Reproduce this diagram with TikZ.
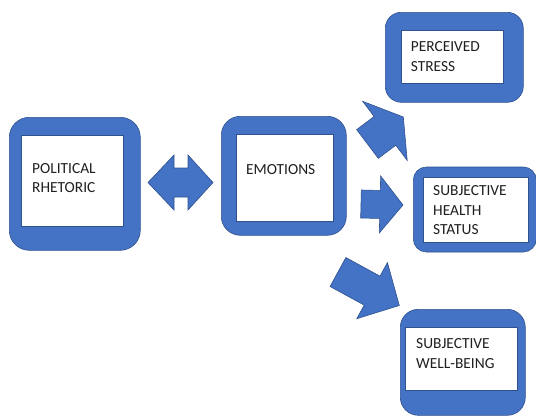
\documentclass[tikz,border=0pt]{standalone}
\usepackage{fontspec}
\setmainfont{Carlito}
\usetikzlibrary{calc}
\definecolor{officeblue}{HTML}{4472C4}
\definecolor{edgeblue}{HTML}{2F528F}
\tikzset{
  frame/.style={fill=officeblue, draw=edgeblue, line width=0.6pt, inner sep=0pt, anchor=north west},
  panel/.style={fill=white, draw=edgeblue, line width=0.6pt, inner sep=0pt, anchor=north west},
  lbl/.style={font=\fontsize{15.4}{19.5}\selectfont, align=left, anchor=north west, inner sep=0pt, text=black!88},
  blk/.style={fill=officeblue, draw=edgeblue, line width=0.6pt, line join=miter},
}
\newcommand\blkarrow[5]{%
  \coordinate (hb) at ($(#2)!#5!(#1)$);
  \draw[blk] ($(#1)!#3!90:(#2)$) -- ($(hb)!#3!90:(#2)$) -- ($(hb)!#4!90:(#2)$) -- (#2)
    -- ($(hb)!#4!-90:(#2)$) -- ($(hb)!#3!-90:(#2)$) -- ($(#1)!#3!-90:(#2)$) -- cycle;
}
\begin{document}
\begin{tikzpicture}[x=1pt,y=-1pt]
\useasboundingbox (0,0) rectangle (536,416);
% political rhetoric
\node[frame, rounded corners=20pt, minimum width=131pt, minimum height=133pt] (polout) at (9,117) {};
\node[panel, minimum width=102pt, minimum height=91pt] (polin) at (21,135) {};
\node[lbl] (poltxt) at (32,163.3) {POLITICAL\\RHETORIC};
% emotions
\node[frame, rounded corners=19pt, minimum width=125pt, minimum height=119pt] (emoout) at (221,116) {};
\node[panel, minimum width=97pt, minimum height=87pt] (emoin) at (236,134) {};
\node[lbl] (emotxt) at (246,164) {EMOTIONS};
% perceived stress
\node[frame, rounded corners=16pt, minimum width=138pt, minimum height=90pt] (strout) at (385,12) {};
\node[panel, minimum width=102pt, minimum height=53pt] (strin) at (401,30) {};
\node[lbl] (strtxt) at (410.7,41.7) {PERCEIVED\\STRESS};
% subjective health status
\node[frame, rounded corners=13pt, minimum width=123pt, minimum height=85pt] (hltout) at (413,166.7) {};
\node[panel, minimum width=105pt, minimum height=65pt] (hltin) at (422.7,176.7) {};
\node[lbl] (hlttxt) at (433,185.7) {SUBJECTIVE\\HEALTH\\STATUS};
% subjective well-being
\node[frame, rounded corners=18pt, minimum width=125pt, minimum height=106pt] (wbout) at (400,309) {};
\node[panel, minimum width=111.7pt, minimum height=63pt] (wbin) at (405,327) {};
\node[lbl] (wbtxt) at (416,338.3) {SUBJECTIVE\\WELL-BEING};
% double arrow between political rhetoric and emotions
\coordinate (dl) at (148,182.5);
\coordinate (dr) at (213,182.5);
\draw[blk] (dl) -- (174,155) -- (174,168) -- (188,168) -- (188,155) -- (dr)
  -- (188,210) -- (188,197) -- (174,197) -- (174,210) -- cycle;
% block arrows from emotions
\coordinate (t1) at (367.5,144); \coordinate (p1) at (403.3,117);
\blkarrow{t1}{p1}{18pt}{37pt}{23pt}
\coordinate (t2) at (361,204); \coordinate (p2) at (403,205);
\blkarrow{t2}{p2}{14pt}{28.5pt}{23pt}
\coordinate (t3) at (338,272); \coordinate (p3) at (399.3,305.5);
\blkarrow{t3}{p3}{16.5pt}{32pt}{31pt}
\end{tikzpicture}
\end{document}
